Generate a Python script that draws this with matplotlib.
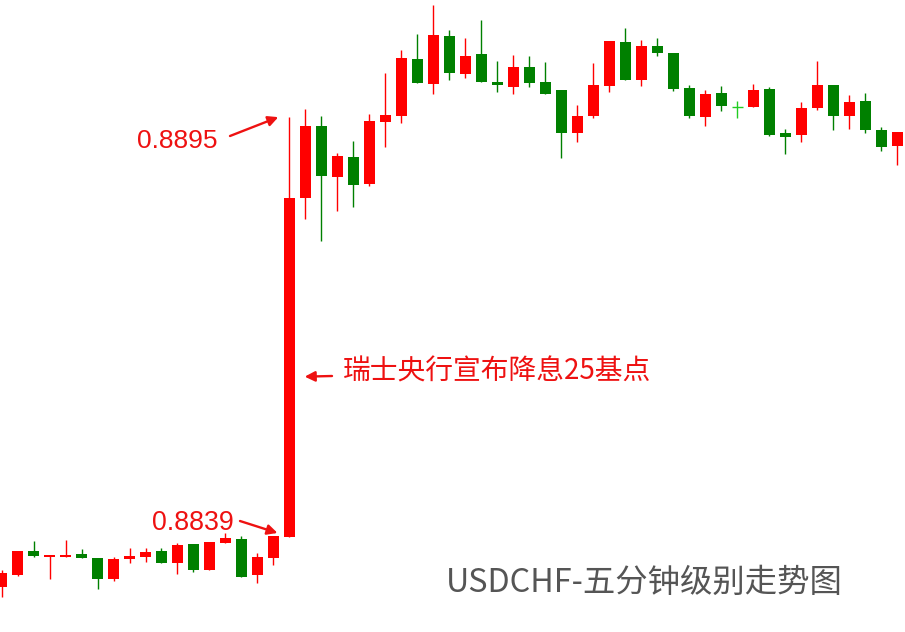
# USDCHF 5-min candles around the SNB rate cut

import numpy as np
import matplotlib
matplotlib.use('Agg')
import matplotlib.pyplot as plt

# candle data (open, high, low, close)
opens = [0.88322, 0.88338, 0.88370, 0.88362, 0.88362, 0.88366, 0.88361, 0.88333, 0.88359, 0.88362,
         0.88370, 0.88354, 0.88379, 0.88345, 0.88381, 0.88386, 0.88338, 0.88361, 0.88389, 0.88842,
         0.88938, 0.88870, 0.88897, 0.88861, 0.88944, 0.88952, 0.89028, 0.88994, 0.89058, 0.89008,
         0.89034, 0.88997, 0.88990, 0.89017, 0.88997, 0.88986, 0.88929, 0.88952, 0.88992, 0.89050,
         0.89000, 0.89045, 0.89036, 0.88989, 0.88950, 0.88982, 0.88964, 0.88964, 0.88988, 0.88929,
         0.88926, 0.88962, 0.88993, 0.88952, 0.88972, 0.88933, 0.88911]
highs = [0.88345, 0.88370, 0.88383, 0.88365, 0.88385, 0.88373, 0.88361, 0.88362, 0.88374, 0.88374,
         0.88374, 0.88381, 0.88379, 0.88382, 0.88394, 0.88390, 0.88367, 0.88390, 0.88950, 0.88961,
         0.88952, 0.88902, 0.88918, 0.88954, 0.89009, 0.89040, 0.89061, 0.89100, 0.89067, 0.89056,
         0.89080, 0.89025, 0.89033, 0.89032, 0.89024, 0.88986, 0.88966, 0.89022, 0.89052, 0.89069,
         0.89053, 0.89056, 0.89036, 0.88993, 0.88986, 0.88992, 0.88972, 0.88994, 0.88990, 0.88934,
         0.88970, 0.89025, 0.88993, 0.88980, 0.88982, 0.88937, 0.88930]
lows = [0.88308, 0.88337, 0.88362, 0.88333, 0.88362, 0.88361, 0.88319, 0.88330, 0.88354, 0.88355,
        0.88354, 0.88339, 0.88342, 0.88344, 0.88381, 0.88335, 0.88327, 0.88351, 0.88389, 0.88814,
        0.88784, 0.88825, 0.88830, 0.88858, 0.88910, 0.88942, 0.88996, 0.88981, 0.89000, 0.89002,
        0.88997, 0.88984, 0.88981, 0.88990, 0.88981, 0.88895, 0.88917, 0.88949, 0.88984, 0.89000,
        0.88992, 0.89032, 0.88985, 0.88949, 0.88938, 0.88958, 0.88949, 0.88964, 0.88925, 0.88901,
        0.88917, 0.88960, 0.88933, 0.88934, 0.88929, 0.88905, 0.88886]
closes = [0.88341, 0.88370, 0.88363, 0.88365, 0.88365, 0.88361, 0.88333, 0.88359, 0.88363, 0.88369,
          0.88354, 0.88378, 0.88345, 0.88382, 0.88387, 0.88335, 0.88362, 0.88390, 0.88842, 0.88938,
          0.88871, 0.88898, 0.88859, 0.88945, 0.88953, 0.89029, 0.88996, 0.89060, 0.89009, 0.89032,
          0.88997, 0.88993, 0.89017, 0.88996, 0.88981, 0.88929, 0.88952, 0.88993, 0.89052, 0.89000,
          0.89045, 0.89036, 0.88988, 0.88952, 0.88981, 0.88965, 0.88964, 0.88986, 0.88926, 0.88923,
          0.88962, 0.88993, 0.88952, 0.88970, 0.88933, 0.88910, 0.88930]

low_label = '0.8839'
high_label = '0.8895'
note = '瑞士央行宣布降息25基点'
title = 'USDCHF-五分钟级别走势图'

up_col = '#ff0000'
down_col = '#008000'
doji_col = '#22cc22'

o = np.array(opens)
h = np.array(highs)
l = np.array(lows)
c = np.array(closes)
x = np.arange(len(o))

fig = plt.figure(figsize=(9.05, 6.32), dpi=100)
ax = fig.add_axes([0, 0, 1, 1])
ax.axis('off')

cols = []
for i in range(len(o)):
    if c[i] > o[i]:
        cols.append(up_col)
    elif c[i] < o[i]:
        cols.append(down_col)
    else:
        cols.append(doji_col)

w = 0.69
ax.vlines(x, l, h, colors=cols, lw=1.0)
ax.bar(x, np.abs(c - o), bottom=np.minimum(o, c), width=w, color=cols, linewidth=0)
# flat candles get a cross
flat = o == c
ax.hlines(o[flat], x[flat] - w / 2, x[flat] + w / 2, colors=doji_col, lw=1.0)

ax.set_xlim(-0.094, 56.47)
ax.set_ylim(0.882616, 0.891066)

# labels and arrows
red_txt = '#ee1111'
arr = dict(arrowstyle='-|>', color=red_txt, lw=1.7, mutation_scale=15, shrinkA=0, shrinkB=0)
fig.text(177, 632 - 141, high_label, transform=None, fontsize=19, color=red_txt,
         family='Liberation Sans', ha='center', va='center')
ax.annotate('', xy=(17.3, float(high_label)), xytext=(230, 632 - 136),
            textcoords='figure pixels', arrowprops=arr)
fig.text(193, 632 - 523, low_label, transform=None, fontsize=19.3, color=red_txt,
         family='Liberation Sans', ha='center', va='center')
ax.annotate('', xy=(17.25, float(low_label) + 0.00004), xytext=(240, 632 - 521),
            textcoords='figure pixels', arrowprops=arr)
fig.text(343, 632 - 371, note, transform=None, fontsize=20, color=red_txt,
         family=['Noto Sans CJK SC', 'DejaVu Sans'], ha='left', va='center')
ax.annotate('', xy=(18.95, 0.88603), xytext=(332, 632 - 376),
            textcoords='figure pixels', arrowprops=arr)

fig.text(644, 632 - 583, title, transform=None, fontsize=23.3, color='#555555',
         family=['Noto Sans CJK SC', 'DejaVu Sans'], ha='center', va='center')

fig.savefig('out.png', dpi=100)
